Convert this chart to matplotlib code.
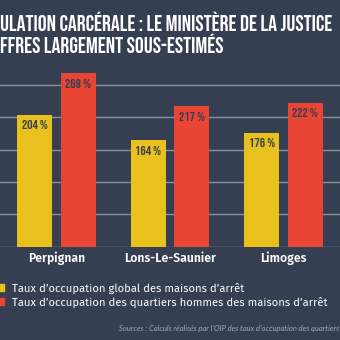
import numpy as np
import matplotlib.pyplot as plt
from matplotlib.patches import Rectangle

# data
cities = ["Perpignan", "Lons-Le-Saunier", "Limoges"]
taux_global = [204, 164, 176]
taux_hommes = [268, 217, 222]
value_labels_global = ["204 %", "164 %", "176 %"]
value_labels_hommes = ["268 %", "217 %", "222 %"]
legend_labels = ["Taux d\u2019occupation global des maisons d\u2019arr\u00eat",
                 "Taux d\u2019occupation des quartiers hommes des maisons d\u2019arr\u00eat"]
title_lines = ["ULATION CARC\u00c9RALE : LE MINIST\u00c8RE DE LA JUSTICE",
               "FFRES LARGEMENT SOUS-ESTIM\u00c9S"]
source = "Sources : Calculs r\u00e9alis\u00e9s par l\u2019OIP des taux d\u2019occupation des quartiers"

bg = "#363e52"
yellow = "#e9c11c"
red = "#e84535"
grid_col = "#8b90a0"

fig = plt.figure(figsize=(3.4, 3.4), dpi=100, facecolor=bg)
ax = fig.add_axes([0, 0.2744, 1, 0.5527])
ax.set_facecolor(bg)

x = np.arange(len(cities))
w = 0.309
off = 0.192
b1 = ax.bar(x - off, taux_global, w, color=yellow, zorder=3)
b2 = ax.bar(x + off, taux_hommes, w, color=red, zorder=3)

# value labels just under the top of each bar
for bars, labels in [(b1, value_labels_global), (b2, value_labels_hommes)]:
    for bar, lab in zip(bars, labels):
        ax.annotate(lab, (bar.get_x() + bar.get_width() / 2, bar.get_height()),
                    xytext=(0, -7.3), textcoords="offset points", ha="center", va="center",
                    color=bg, fontsize=9.5, family="Bebas Neue", zorder=4)

ax.set_xlim(-0.5, 2.5)
ax.set_ylim(0, 290)
ax.set_yticks([0, 50, 100, 150, 200, 250])
ax.yaxis.grid(True, color=grid_col, linewidth=1, zorder=0)
ax.tick_params(left=False, bottom=False, labelleft=False, labelbottom=False)
for s in ax.spines.values():
    s.set_visible(False)

for xi, c in zip(x, cities):
    ax.annotate(c, (xi, 0), xytext=(0, -8.2), textcoords="offset points", ha="center", va="center",
                color="white", fontsize=8.8, fontweight="semibold", family="Fira Sans")

# title
fig.text(0.0, 1 - 21.5 / 340, title_lines[0], color="white", fontsize=15.9,
         family="Bebas Neue", va="center", ha="left")
fig.text(0.0, 1 - 43.5 / 340, title_lines[1], color="white", fontsize=15.9,
         family="Bebas Neue", va="center", ha="left")

# legend
for yy, col, lab in zip([287.5, 301.5], [yellow, red], legend_labels):
    fig.patches.append(Rectangle((-3 / 340, 1 - (yy + 3.5) / 340), 6.5 / 340, 7 / 340,
                                 transform=fig.transFigure, color=col, figure=fig))
    fig.text(11.5 / 340, 1 - yy / 340, lab, color="white", fontsize=8.1, family="Fira Sans",
             va="center_baseline", ha="left")

fig.text(339 / 340, 1 - 328.5 / 340, source, color="#a3a8b6", fontsize=5.5, style="italic",
         family="Lato", va="center", ha="right")

fig.savefig("out.png", dpi=100, facecolor=bg)
